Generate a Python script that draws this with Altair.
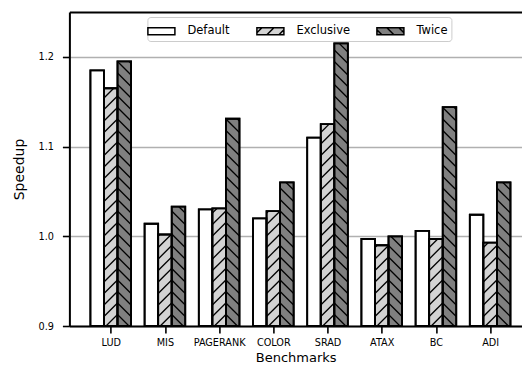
import altair as alt
import pandas as pd

# ---------------- data ----------------
benchmarks = ["LUD", "MIS", "PAGERANK", "COLOR", "SRAD", "ATAX", "BC", "ADI"]
series_names = ["Default", "Exclusive", "Twice"]
default_vals = [1.185, 1.014, 1.030, 1.020, 1.110, 0.997, 1.006, 1.024]
exclusive_vals = [1.165, 1.002, 1.031, 1.028, 1.125, 0.990, 0.997, 0.993]
twice_vals = [1.195, 1.033, 1.131, 1.060, 1.215, 1.000, 1.144, 1.060]
y_ticks = [0.9, 1.0, 1.1, 1.2]
series_colors = ["#ffffff", "#d3d3d3", "#808080"]
edge_colors = ["black", "black", "black"]

rows = []
for i, b in enumerate(benchmarks):
    for j, (s, vals) in enumerate(zip(series_names, [default_vals, exclusive_vals, twice_vals])):
        rows.append({"bench": b, "idx": i, "series": s, "sidx": j, "value": vals[i]})
df = pd.DataFrame(rows)

# ---------------- geometry / style constants ----------------
PAD_L, PAD_T = 61.4, 4
W, H = 514 - PAD_L, 314
PAD_B = 356 - PAD_T - H
XMIN = -0.7625
XMAX = XMIN + W / 54.2
YMIN, YMAX = 0.9, 1.25
PX = W / (XMAX - XMIN)
PY = H / (YMAX - YMIN)
BW = 0.25
HH = BW * PX / PY          # vertical rise of a 45deg hatch line across one bar (data units)
HS = 11.5 / PY             # hatch spacing (data units)

xscale = alt.Scale(domain=[XMIN, XMAX], nice=False, zero=False)
yscale = alt.Scale(domain=[YMIN, YMAX], nice=False, zero=False)

label_expr = "[" + ",".join(f"'{b}'" for b in benchmarks) + "][round(datum.value)]"

x_axis = alt.Axis(
    values=list(range(len(benchmarks))), labelExpr=label_expr, grid=False,
    title="Benchmarks", titleFontSize=13, titleFontWeight="normal",
    titleBaseline="alphabetic", titleY=35.5,
    labelFontSize=9.7, labelPadding=4.5, tickSize=7, tickWidth=1.6, tickColor="black",
    domainColor="black", domainWidth=2, labelColor="black", titleColor="black",
    labelFlush=False, labelOverlap=False,
)
y_axis = alt.Axis(
    values=y_ticks, format=".1f", title="Speedup", titleFontSize=14,
    titleFontWeight="normal", titlePadding=11, labelFontSize=9.7, labelPadding=9,
    tickSize=7, tickWidth=1.6, tickColor="black", domainColor="black", domainWidth=2,
    labelColor="black", titleColor="black", grid=True, gridColor="#b0b0b0",
    gridWidth=1.6, labelFlush=False,
)

base = alt.Chart(df).transform_calculate(
    xc="datum.idx + (datum.sidx - 1) * 0.25",
).transform_calculate(
    xl=f"datum.xc - {BW / 2}",
    xr=f"datum.xc + {BW / 2}",
    base=f"{YMIN}",
)

bars = base.mark_rect(stroke="black", strokeWidth=1.8).encode(
    x=alt.X("xl:Q", scale=xscale, axis=x_axis),
    x2="xr:Q",
    y=alt.Y("value:Q", scale=yscale, axis=y_axis),
    y2="base:Q",
    color=alt.Color("sidx:N", scale=alt.Scale(domain=[0, 1, 2], range=series_colors),
                    legend=None),
)

hatch = base.transform_filter("datum.sidx > 0").transform_calculate(
    n=f"ceil((datum.value - {YMIN} + {HH}) / {HS})"
).transform_calculate(
    k="sequence(1, datum.n + 1)"
).transform_flatten(["k"]).transform_calculate(
    yhi_a=f"{YMIN} + datum.k * {HS}"
).transform_calculate(
    ylo_a=f"datum.yhi_a - {HH}"
).transform_calculate(
    ylo=f"max(datum.ylo_a, {YMIN})",
    yhi="min(datum.yhi_a, datum.value)",
).transform_filter("datum.yhi > datum.ylo").transform_calculate(
    xs=f"datum.sidx == 1 ? datum.xl + (datum.ylo - datum.ylo_a) / {HH} * {BW} : datum.xr - (datum.ylo - datum.ylo_a) / {HH} * {BW}",
    xe=f"datum.sidx == 1 ? datum.xl + (datum.yhi - datum.ylo_a) / {HH} * {BW} : datum.xr - (datum.yhi - datum.ylo_a) / {HH} * {BW}",
).mark_rule(color="black", strokeWidth=1.3).encode(
    x=alt.X("xs:Q", scale=xscale, axis=None),
    x2="xe:Q",
    y=alt.Y("ylo:Q", scale=yscale, axis=None),
    y2="yhi:Q",
)

outline = base.mark_rect(fillOpacity=0, stroke="black", strokeWidth=1.8).encode(
    x=alt.X("xl:Q", scale=xscale, axis=None),
    x2="xr:Q",
    y=alt.Y("value:Q", scale=yscale, axis=None),
    y2="base:Q",
)

rect = "M-1.35,-0.35H1.35V0.35H-1.35Z"
p_default = rect
p_excl = rect + " M-1.35,0.15L-0.85,-0.35 M-0.35,0.35L0.35,-0.35 M0.85,0.35L1.35,-0.15"
p_twice = rect + " M-1.35,-0.15L-0.85,0.35 M-0.35,-0.35L0.35,0.35 M0.85,-0.35L1.35,0.15"

leg = alt.Legend(
    title=None, orient="none", direction="horizontal", legendX=78, legendY=5,
    symbolSize=400, symbolStrokeWidth=1.5, symbolStrokeColor="black", symbolOpacity=1,
    labelFontSize=11.5, labelOffset=15, columnPadding=23, padding=3,
    strokeColor="#cccccc", fillColor="white", cornerRadius=3, labelColor="black",
)

legend_layer = base.mark_point(filled=True, opacity=0, strokeWidth=1.5).encode(
    x=alt.X("xc:Q", scale=xscale, axis=alt.Axis(orient="top", labels=False, ticks=False,
                                                 title=None, grid=False, domainColor="black",
                                                 domainWidth=2)),
    y=alt.Y("value:Q", scale=yscale, axis=None),
    fill=alt.Fill("series:N", scale=alt.Scale(domain=series_names, range=series_colors),
                  legend=leg),
    stroke=alt.Stroke("series:N", scale=alt.Scale(domain=series_names, range=edge_colors),
                      legend=leg),
    shape=alt.Shape("series:N", scale=alt.Scale(domain=series_names,
                                                range=[p_default, p_excl, p_twice]), legend=leg),
)

chart = alt.layer(bars, hatch, outline, legend_layer).resolve_axis(
    x="independent", y="independent"
).properties(
    width=W, height=H,
    autosize=alt.AutoSizeParams(type="none"),
    padding={"left": PAD_L, "top": PAD_T, "right": 0, "bottom": PAD_B},
).configure(font="DejaVu Sans").configure_view(stroke=None)

chart.save("out.html", embed_options={"renderer": "svg", "actions": False})
